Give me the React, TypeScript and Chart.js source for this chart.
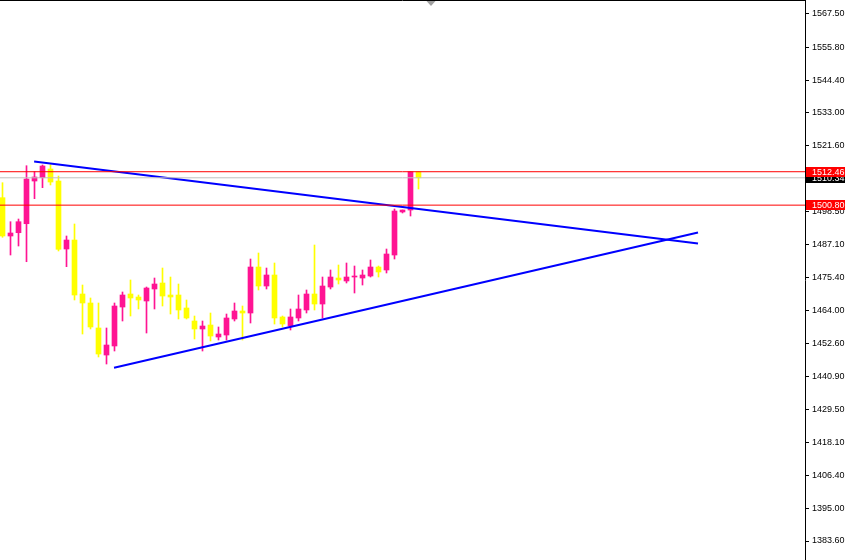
import { useEffect, useRef } from 'react';
import { Chart, registerables } from 'chart.js';

Chart.register(...registerables);

// Candle data (one bar per index)
const openP = [
  1503.40, 1490.03, 1491.18, 1494.32, 1509.22, 1510.37, 1513.41, 1509.22, 1485.49, 1488.63,
  1469.79, 1466.65, 1457.93, 1448.50, 1451.65, 1465.25, 1469.79, 1468.74, 1467.35, 1471.54,
  1473.63, 1469.44, 1469.44, 1464.91, 1460.37, 1457.58, 1458.97, 1454.79, 1455.48, 1461.07,
  1463.86, 1463.16, 1479.21, 1472.58, 1476.42, 1461.77, 1458.62, 1461.42, 1464.21, 1469.79,
  1466.30, 1472.23, 1475.37, 1474.33, 1475.72, 1475.37, 1476.07, 1479.21, 1478.17, 1483.40,
  1498.41, 1499.10, 1512.46,
];
const highP = [
  1508.63, 1495.02, 1495.96, 1514.56, 1512.47, 1514.81, 1514.91, 1510.97, 1490.03, 1494.22,
  1472.93, 1468.40, 1466.65, 1457.93, 1466.65, 1470.49, 1474.68, 1469.44, 1472.23, 1475.37,
  1478.86, 1475.72, 1473.28, 1467.70, 1462.11, 1460.37, 1463.16, 1458.28, 1462.81, 1466.65,
  1465.60, 1482.00, 1484.10, 1478.86, 1480.61, 1462.11, 1464.56, 1469.44, 1471.19, 1486.89,
  1475.72, 1478.17, 1479.91, 1480.61, 1479.56, 1478.17, 1481.66, 1479.56, 1485.49, 1499.45,
  1499.10, 1512.46, 1512.46,
];
const lowP = [
  1489.58, 1483.40, 1486.54, 1481.06, 1503.05, 1506.89, 1507.83, 1484.80, 1479.32, 1467.70,
  1455.83, 1457.58, 1447.81, 1445.36, 1449.90, 1460.37, 1462.11, 1464.56, 1456.18, 1464.56,
  1465.60, 1462.81, 1461.07, 1461.07, 1454.09, 1449.90, 1453.39, 1453.74, 1453.74, 1460.37,
  1453.74, 1459.67, 1471.19, 1471.54, 1459.32, 1458.28, 1457.23, 1460.37, 1463.16, 1464.21,
  1461.42, 1471.54, 1473.28, 1473.63, 1470.14, 1472.93, 1475.72, 1475.72, 1477.12, 1482.00,
  1498.06, 1497.01, 1506.43,
];
const closeP = [
  1490.03, 1491.08, 1495.02, 1509.92, 1510.62, 1514.46, 1508.87, 1485.39, 1488.63, 1469.44,
  1466.65, 1458.28, 1448.85, 1451.99, 1465.60, 1469.44, 1468.40, 1467.70, 1471.88, 1473.28,
  1469.09, 1468.74, 1464.21, 1461.42, 1457.58, 1458.62, 1455.13, 1455.83, 1461.42, 1463.86,
  1463.16, 1479.21, 1472.58, 1476.42, 1461.42, 1459.32, 1461.77, 1464.56, 1469.79, 1466.30,
  1472.58, 1475.72, 1474.68, 1475.72, 1476.07, 1476.42, 1479.21, 1477.47, 1483.75, 1498.75,
  1499.10, 1512.46, 1510.34,
];

// Price axis tick labels
const yTicks = [
  1567.5, 1555.8, 1544.4, 1533.0, 1521.6, 1498.5, 1487.1, 1475.4,
  1464.0, 1452.6, 1440.9, 1429.5, 1418.1, 1406.4, 1395.0, 1383.6,
];

// Trend lines (bar index, price)
const upperTrendX = [3.95, 86.94];
const upperTrendY = [1516.0, 1487.41];
const lowerTrendX = [13.94, 86.94];
const lowerTrendY = [1444.07, 1491.25];

// Horizontal price levels
const levelValues = [1512.46, 1510.34, 1500.80];
const levelLineColors = ['#ff0000', '#c0c0c0', '#ff0000'];
const levelTagColors = ['#ff0000', '#000000', '#ff0000'];

const shiftMarker = 53.5;

const X_MIN = -0.3125;
const X_MAX = 100.3125;
const Y_MIN = 1376.97;
const Y_MAX = 1572.385;

const BULL = '#ff1493';
const BEAR = '#ffff00';

const decorPlugin = {
  id: 'mtDecor',
  afterDraw(chart: any) {
    const { ctx, chartArea, scales } = chart;
    const ys = scales.y;
    const xs = scales.x;
    ctx.save();
    // top frame line
    ctx.strokeStyle = '#000000';
    ctx.lineWidth = 1;
    ctx.beginPath();
    ctx.moveTo(chartArea.left, chartArea.top + 0.5);
    ctx.lineTo(chartArea.right, chartArea.top + 0.5);
    ctx.stroke();
    // chart shift marker
    const sx = Math.round(xs.getPixelForValue(shiftMarker));
    ctx.fillStyle = '#a0a0a0';
    ctx.beginPath();
    ctx.moveTo(sx - 4.5, chartArea.top + 1);
    ctx.lineTo(sx + 4.5, chartArea.top + 1);
    ctx.lineTo(sx, chartArea.top + 6);
    ctx.closePath();
    ctx.fill();
    // price tags
    ctx.font = '9px "Liberation Sans"';
    ctx.textBaseline = 'middle';
    ctx.textAlign = 'left';
    for (let i = levelValues.length - 1; i >= 0; i--) {
      const py = Math.round(ys.getPixelForValue(levelValues[i]));
      ctx.fillStyle = levelTagColors[i];
      ctx.fillRect(chartArea.right + 1, py - 5, chart.width - chartArea.right - 1, 10);
      ctx.fillStyle = '#ffffff';
      ctx.fillText(levelValues[i].toFixed(2), chartArea.right + 7, py + 0.5);
    }
    ctx.restore();
  },
};

export default function App() {
  const ref = useRef<HTMLCanvasElement>(null);

  useEffect(() => {
    if (!ref.current) return;
    const colors = openP.map((o, i) => (closeP[i] >= o ? BULL : BEAR));
    const wickData = openP.map((_, i) => ({ x: i, y: [lowP[i], highP[i]] }));
    const bodyData = openP.map((o, i) => ({ x: i, y: [o, closeP[i]] }));

    const levelSets = levelValues.map((v, i) => ({
      type: 'line' as const,
      data: [
        { x: X_MIN - 1, y: v },
        { x: X_MAX + 1, y: v },
      ],
      borderColor: levelLineColors[i],
      borderWidth: 1,
      pointRadius: 0,
      order: 0,
    }));

    const chart = new Chart(ref.current, {
      type: 'bar',
      data: {
        datasets: [
          ...levelSets,
          {
            type: 'line',
            data: upperTrendX.map((x, i) => ({ x, y: upperTrendY[i] })),
            borderColor: '#0000ff',
            borderWidth: 2,
            pointRadius: 0,
            order: 0,
          },
          {
            type: 'line',
            data: lowerTrendX.map((x, i) => ({ x, y: lowerTrendY[i] })),
            borderColor: '#0000ff',
            borderWidth: 2,
            pointRadius: 0,
            order: 0,
          },
          {
            type: 'bar',
            data: bodyData as any,
            backgroundColor: colors,
            borderWidth: 0,
            barThickness: 5,
            grouped: false,
            minBarLength: 1,
            order: 1,
          },
          {
            type: 'bar',
            data: wickData as any,
            backgroundColor: colors,
            borderWidth: 0,
            barThickness: 1,
            grouped: false,
            order: 2,
          },
        ] as any,
      },
      options: {
        animation: false,
        responsive: false,
        events: [],
        layout: { padding: 0 },
        plugins: {
          legend: { display: false },
          tooltip: { enabled: false },
        },
        scales: {
          x: {
            type: 'linear',
            display: false,
            min: X_MIN,
            max: X_MAX,
            offset: false,
          },
          y: {
            type: 'linear',
            position: 'right',
            min: Y_MIN,
            max: Y_MAX,
            afterBuildTicks: (s: any) => {
              s.ticks = yTicks.map((v) => ({ value: v }));
            },
            afterFit: (s: any) => {
              s.width = 40;
              s.paddingTop = 0;
              s.paddingBottom = 0;
            },
            ticks: {
              autoSkip: false,
              color: '#000000',
              padding: 3,
              font: { family: 'Liberation Sans', size: 9 },
              callback: (v: any) => Number(v).toFixed(2),
            },
            grid: {
              drawOnChartArea: false,
              drawTicks: true,
              tickLength: 4,
              color: '#000000',
            },
            border: { display: true, color: '#000000', width: 1 },
          },
        },
      } as any,
      plugins: [decorPlugin],
    });
    return () => chart.destroy();
  }, []);

  return (
    <div style={{ position: 'absolute', left: 0, top: 0, width: 845, height: 560, background: '#ffffff' }}>
      <canvas ref={ref} width={845} height={560} style={{ width: 845, height: 560, display: 'block' }} />
    </div>
  );
}
